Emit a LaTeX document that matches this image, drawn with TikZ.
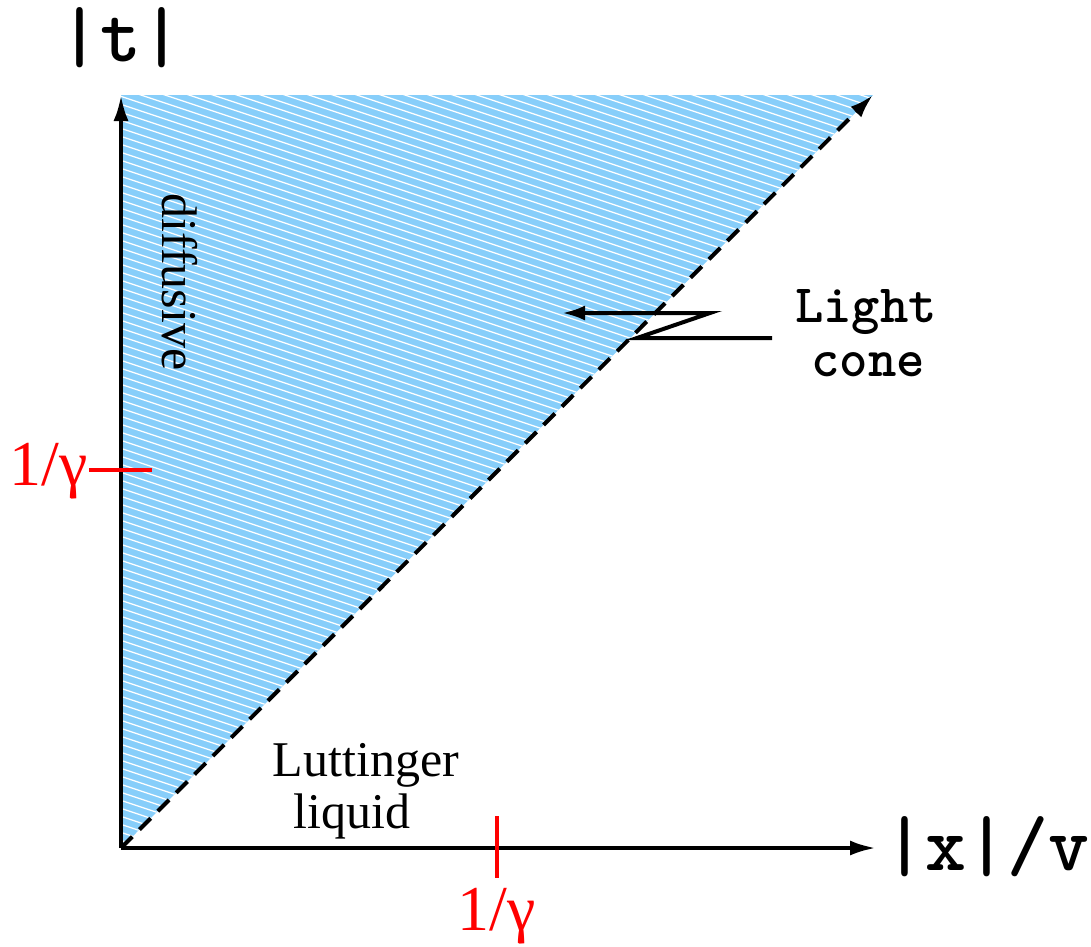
\documentclass[tikz,border=0pt]{standalone}
\usepackage{fontspec}
\setmainfont{Liberation Serif}
\usetikzlibrary{arrows.meta}
\definecolor{skyfill}{RGB}{135,206,250}
\begin{document}
\begin{tikzpicture}[x=1pt,y=-1pt,
  axis/.style={line width=4pt,-{Latex[length=26pt,width=15pt]}},
  tickmark/.style={red,line width=4pt},
  redlab/.style={red,font=\fontsize{64}{64}\selectfont,inner sep=0,anchor=base},
  serif/.style={font=\fontsize{50}{50}\selectfont,inner sep=0,anchor=base},
  mono/.style={font=\fontsize{54}{54}\selectfont\ttfamily\bfseries,inner sep=0,anchor=base},
  bigmono/.style={font=\fontsize{78}{78}\selectfont\ttfamily\bfseries,inner sep=0}]
\useasboundingbox (0,0) rectangle (1091,946);
\coordinate (O) at (121,848);
\coordinate (T) at (121,95);
\coordinate (X) at (876,848);
\coordinate (C) at (873,95);
\fill[skyfill] (O) -- (T) -- (C) -- cycle;
\begin{scope}
  \clip (O) -- (T) -- (C) -- cycle;
  \foreach \c in {-200,-192,...,810}
    \draw[white,line width=1.3pt] (110,\c+36.7) -- (890,\c+296.7);
\end{scope}
\draw[line width=4pt,dash pattern=on 16pt off 10pt,-{Latex[length=24pt,width=15pt]}] (O) -- (C);
\draw[axis] (O) -- (T);
\draw[axis] (O) -- (X);
\draw[tickmark] (89,470) -- (152,470);
\draw[tickmark] (497,816) -- (497,878);
\node[redlab] (g1) at (49,485) {1/γ};
\node[redlab] (g2) at (497,930) {1/γ};
\node[serif] (lut) at (366,776) {Luttinger};
\node[serif] (liq) at (352,828) {liquid};
\node[serif,rotate=-90,anchor=center] (dif) at (180,282) {diffusive};
\node[mono] (light) at (866,322) {Light};
\node[mono] (cone) at (868,376) {cone};
\coordinate (lc0) at (772,338);
\coordinate (lc1) at (637,338);
\coordinate (lc2) at (710,313);
\coordinate (lc3) at (562,313);
\draw[line width=4pt,-{Latex[length=23pt,width=15pt]}] (lc0) -- (lc1) -- (lc2) -- (lc3);
\node[bigmono] (tl) at (121,38) {|t|};
\node[bigmono] (xl) at (987,847) {|x|/v};
\end{tikzpicture}
\end{document}
